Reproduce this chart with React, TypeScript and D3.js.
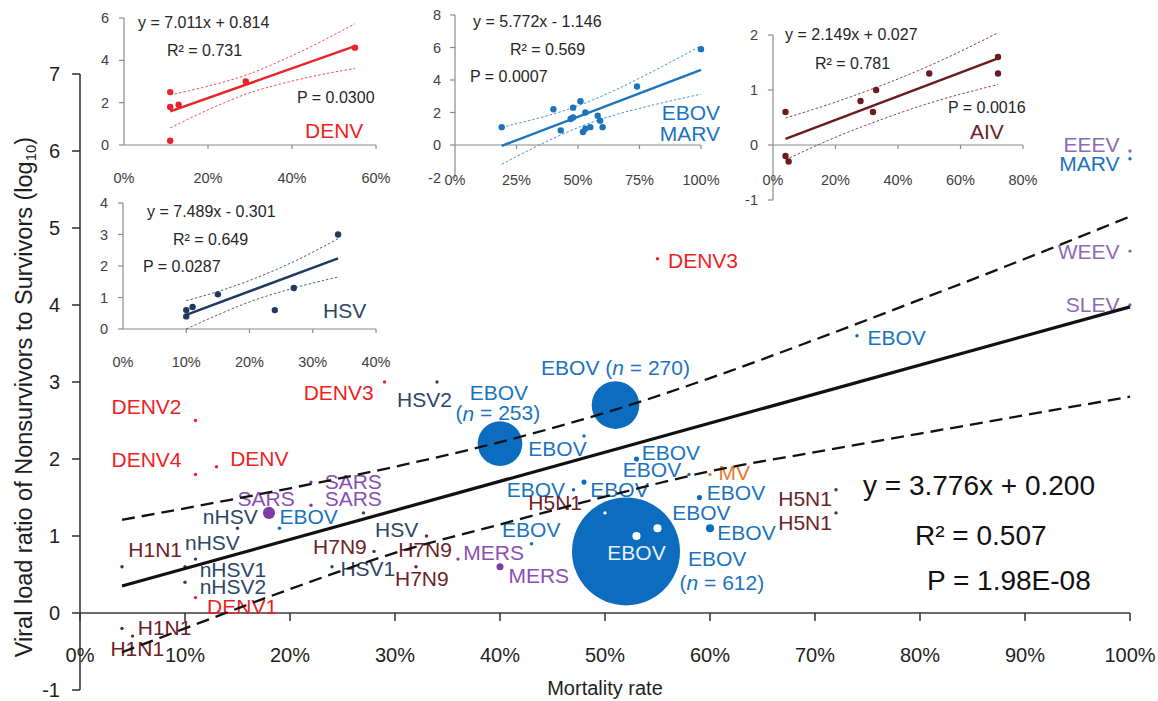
import React from "react";
import * as d3 from "d3";

const W = 1158;
const H = 701;
const FONT = "'Liberation Sans', Arial, sans-serif";

// ---------- main data: [mortality, log10 ratio] ----------
const denvPoints: [number, number][] = [[0.11, 2.5], [0.11, 1.8], [0.13, 1.9], [0.11, 0.2], [0.29, 3.0], [0.55, 4.6]];
const hsvPoints: [number, number][] = [[0.10, 0.6], [0.10, 0.4], [0.11, 0.7], [0.15, 1.1], [0.24, 0.6], [0.27, 1.3], [0.34, 3.0]];
const ebovPoints: [number, number][] = [[0.19, 1.1], [0.40, 2.2], [0.43, 0.9], [0.47, 1.6], [0.48, 1.7], [0.48, 2.3], [0.51, 2.7], [0.52, 0.8], [0.53, 2.0], [0.53, 1.0], [0.55, 1.1], [0.58, 1.8], [0.59, 1.5], [0.60, 1.1], [0.74, 3.6]];
const ebovN = [10, 253, 10, 10, 29, 10, 270, 612, 29, 46, 46, 10, 29, 46, 10];
const marvPoints: [number, number][] = [[1.0, 5.9]];
const aivPoints: [number, number][] = [[0.04, 0.6], [0.04, -0.2], [0.05, -0.3], [0.28, 0.8], [0.32, 0.6], [0.33, 1.0], [0.50, 1.3], [0.72, 1.6], [0.72, 1.3]];
const sarsPoints: [number, number][] = [[0.18, 1.3], [0.22, 1.7], [0.22, 1.4]];
const sarsN = [69, 10, 10];
const mersPoints: [number, number][] = [[0.36, 0.7], [0.40, 0.6]];
const mersN = [10, 40];
const mvPoints: [number, number][] = [[0.60, 1.8]];
const alphaPoints: [number, number][] = [[1.0, 6.0], [1.0, 4.7], [1.0, 4.0]]; // EEEV, WEEV, SLEV

// overall regression
const mainSlope = 3.776;
const mainIntercept = 0.2;
const bandX = [0.04, 0.1, 0.2, 0.3, 0.4, 0.5, 0.6, 0.7, 0.8, 0.9, 1.0];
const bandUpper = [1.21, 1.36, 1.62, 1.90, 2.22, 2.60, 3.05, 3.55, 4.07, 4.60, 5.15];
const bandLower = [-0.51, -0.20, 0.31, 0.78, 1.15, 1.51, 1.84, 2.09, 2.33, 2.57, 2.81];

const xTicks = [0, 0.1, 0.2, 0.3, 0.4, 0.5, 0.6, 0.7, 0.8, 0.9, 1.0];
const yTicks = [-1, 0, 1, 2, 3, 4, 5, 6, 7];

// inset bands
const denvBandX = [0.11, 0.2, 0.29, 0.4, 0.55];
const denvBandU = [2.37, 2.78, 3.30, 4.22, 5.73];
const denvBandL = [0.81, 1.66, 2.40, 3.02, 3.62];
const hsvBandX = [0.10, 0.15, 0.2, 0.27, 0.34];
const hsvBandU = [0.90, 1.19, 1.54, 2.14, 2.87];
const hsvBandL = [0.0, 0.45, 0.86, 1.30, 1.65];
const ebovBandX = [0.19, 0.3, 0.4, 0.52, 0.65, 0.8, 1.0];
const ebovBandU = [1.09, 1.50, 1.91, 2.53, 3.37, 4.50, 6.10];
const ebovBandL = [-1.19, -0.32, 0.41, 1.19, 1.85, 2.44, 3.13];
const aivBandX = [0.04, 0.2, 0.35, 0.5, 0.72];
const aivBandU = [0.49, 0.78, 1.09, 1.44, 2.04];
const aivBandL = [-0.27, 0.14, 0.47, 0.76, 1.10];

const COL = {
  denv: "#ee1f24",
  ebov: "#1b73bf",
  ebovBig: "#0b6cc0",
  hsv: "#2c4668",
  sars: "#7c3ea2",
  sarsLabel: "#8a4fb3",
  aiv: "#6c2226",
  mv: "#e8782e",
  alpha: "#8d6ab8",
  axis: "#3a3a3a",
};

type Lab = { t: string; c: string; x: number; y: number; a?: "start" | "middle" | "end"; n?: string };
const mainLabels: Lab[] = [
  { t: "H1N1", c: COL.aiv, x: 0.046, y: 0.82 },
  { t: "H1N1", c: COL.aiv, x: 0.055, y: -0.19 },
  { t: "H1N1", c: COL.aiv, x: 0.029, y: -0.46 },
  { t: "DENV2", c: COL.denv, x: 0.030, y: 2.68 },
  { t: "DENV4", c: COL.denv, x: 0.030, y: 1.99 },
  { t: "DENV", c: COL.denv, x: 0.143, y: 2.01 },
  { t: "DENV1", c: COL.denv, x: 0.121, y: 0.08 },
  { t: "DENV3", c: COL.denv, x: 0.213, y: 2.86 },
  { t: "DENV3", c: COL.denv, x: 0.56, y: 4.58 },
  { t: "SARS", c: COL.sarsLabel, x: 0.150, y: 1.49 },
  { t: "SARS", c: COL.sarsLabel, x: 0.233, y: 1.71 },
  { t: "SARS", c: COL.sarsLabel, x: 0.233, y: 1.49 },
  { t: "nHSV", c: COL.hsv, x: 0.117, y: 1.25 },
  { t: "EBOV", c: COL.ebov, x: 0.190, y: 1.25 },
  { t: "nHSV", c: COL.hsv, x: 0.100, y: 0.91 },
  { t: "nHSV1", c: COL.hsv, x: 0.114, y: 0.56 },
  { t: "nHSV2", c: COL.hsv, x: 0.114, y: 0.34 },
  { t: "HSV", c: COL.hsv, x: 0.281, y: 1.08 },
  { t: "H7N9", c: COL.aiv, x: 0.222, y: 0.86 },
  { t: "HSV1", c: COL.hsv, x: 0.248, y: 0.58 },
  { t: "H7N9", c: COL.aiv, x: 0.303, y: 0.83 },
  { t: "H7N9", c: COL.aiv, x: 0.300, y: 0.45 },
  { t: "MERS", c: COL.sarsLabel, x: 0.365, y: 0.78 },
  { t: "MERS", c: COL.sarsLabel, x: 0.408, y: 0.49 },
  { t: "HSV2", c: COL.hsv, x: 0.302, y: 2.77 },
  { t: "EBOV", c: COL.ebov, x: 0.399, y: 2.87, a: "middle" },
  { t: "", n: "253", c: COL.ebov, x: 0.398, y: 2.60, a: "middle" },
  { t: "EBOV ", n: "270", c: COL.ebov, x: 0.510, y: 3.19, a: "middle" },
  { t: "EBOV", c: COL.ebov, x: 0.427, y: 2.14 },
  { t: "EBOV", c: COL.ebov, x: 0.535, y: 2.08 },
  { t: "EBOV", c: COL.ebov, x: 0.517, y: 1.86 },
  { t: "EBOV", c: COL.ebov, x: 0.462, y: 1.60, a: "end" },
  { t: "EBOV", c: COL.ebov, x: 0.486, y: 1.60 },
  { t: "H5N1", c: COL.aiv, x: 0.427, y: 1.44 },
  { t: "EBOV", c: COL.ebov, x: 0.402, y: 1.08 },
  { t: "EBOV", c: "#e8f0fa", x: 0.53, y: 0.79, a: "middle" },
  { t: "EBOV", c: COL.ebov, x: 0.597, y: 1.57 },
  { t: "EBOV", c: COL.ebov, x: 0.564, y: 1.30 },
  { t: "EBOV", c: COL.ebov, x: 0.607, y: 1.04 },
  { t: "EBOV", c: COL.ebov, x: 0.579, y: 0.71 },
  { t: "", n: "612", c: COL.ebov, x: 0.571, y: 0.40 },
  { t: "MV", c: COL.mv, x: 0.608, y: 1.82 },
  { t: "EBOV", c: COL.ebov, x: 0.750, y: 3.58 },
  { t: "H5N1", c: COL.aiv, x: 0.665, y: 1.49 },
  { t: "H5N1", c: COL.aiv, x: 0.665, y: 1.18 },
  { t: "EEEV", c: COL.alpha, x: 0.990, y: 6.08, a: "end" },
  { t: "MARV", c: COL.ebov, x: 0.990, y: 5.84, a: "end" },
  { t: "WEEV", c: COL.alpha, x: 0.990, y: 4.69, a: "end" },
  { t: "SLEV", c: COL.alpha, x: 0.990, y: 4.01, a: "end" },
];

// ---------- scales ----------
const x = d3.scaleLinear().domain([0, 1]).range([80, 1130]);
const y = d3.scaleLinear().domain([-1, 7]).range([690, 74]);
const rScale = d3.scaleLinear().domain([0, 612]).range([0, 54]);
const radius = (n: number) => Math.max(1.7, rScale(n));

type Pt = { px: number; py: number; r: number; fill: string };

function buildMainPoints(): Pt[] {
  const out: Pt[] = [];
  const add = (pts: [number, number][], color: string, ns?: number[]) =>
    pts.forEach((p, i) => out.push({ px: x(p[0]), py: y(p[1]), r: radius(ns ? ns[i] : 10), fill: color }));
  add(denvPoints, COL.denv);
  add(hsvPoints, COL.hsv);
  add(ebovPoints, COL.ebovBig, ebovN);
  add(marvPoints, COL.ebov);
  add(aivPoints, COL.aiv);
  add(sarsPoints, COL.sars, sarsN);
  add(mersPoints, COL.sars, mersN);
  add(mvPoints, COL.mv);
  add(alphaPoints, COL.alpha);
  out.sort((a, b) => b.r - a.r);
  // points lying inside a larger bubble are drawn white
  const big = out.filter((p) => p.r > 15);
  out.forEach((p) => {
    if (p.r < 15 && big.some((b) => Math.hypot(b.px - p.px, b.py - p.py) < b.r - p.r)) p.fill = "#ffffff";
  });
  return out;
}

type InsetCfg = {
  xDom: [number, number];
  xPx: [number, number];
  yDom: [number, number];
  yPx: [number, number];
  xTicks: number[];
  yTicks: number[];
  xLabelY: number;
  yLabelX: number;
  points: [number, number][];
  color: string;
  slope: number;
  intercept: number;
  bx: number[];
  bu: number[];
  bl: number[];
  texts: { t: string; x: number; y: number; a?: "start" | "end"; size?: number; color?: string }[];
};

function Inset({ cfg }: { cfg: InsetCfg }) {
  const sx = d3.scaleLinear().domain(cfg.xDom).range(cfg.xPx);
  const sy = d3.scaleLinear().domain(cfg.yDom).range(cfg.yPx);
  const xe = d3.extent(cfg.points, (d) => d[0]) as [number, number];
  const line = d3.line<[number, number]>().x((d) => sx(d[0])).y((d) => sy(d[1]));
  const curve = d3.line<[number, number]>().x((d) => sx(d[0])).y((d) => sy(d[1])).curve(d3.curveMonotoneX);
  const reg: [number, number][] = xe.map((v) => [v, cfg.slope * v + cfg.intercept]) as [number, number][];
  const up = cfg.bx.map((v, i) => [v, cfg.bu[i]] as [number, number]);
  const lo = cfg.bx.map((v, i) => [v, cfg.bl[i]] as [number, number]);
  const fmt = d3.format(".0%");
  const axisCol = "#8a8a8a";
  const y0 = sy(0);
  return (
    <g fontFamily={FONT}>
      <line x1={sx(cfg.xDom[0])} x2={sx(cfg.xDom[1])} y1={y0} y2={y0} stroke={axisCol} strokeWidth={1.2} />
      <line x1={sx(cfg.xDom[0])} x2={sx(cfg.xDom[0])} y1={sy(cfg.yDom[0])} y2={sy(cfg.yDom[1])} stroke={axisCol} strokeWidth={1.2} />
      {cfg.xTicks.map((t) => (
        <g key={"xt" + t}>
          {t !== cfg.xDom[0] && <line x1={sx(t)} x2={sx(t)} y1={y0} y2={y0 + 4} stroke={axisCol} strokeWidth={1.2} />}
          <text x={sx(t)} y={cfg.xLabelY} textAnchor="middle" dominantBaseline="central" fontSize={14.5} fill="#404040">
            {fmt(t)}
          </text>
        </g>
      ))}
      {cfg.yTicks.map((t) => (
        <g key={"yt" + t}>
          <line x1={sx(cfg.xDom[0]) - 5} x2={sx(cfg.xDom[0])} y1={sy(t)} y2={sy(t)} stroke={axisCol} strokeWidth={1.2} />
          <text x={cfg.yLabelX} y={sy(t)} textAnchor="end" dominantBaseline="central" fontSize={14.5} fill="#404040">
            {t}
          </text>
        </g>
      ))}
      <path d={curve(up) || ""} fill="none" stroke={cfg.color} strokeWidth={1} strokeDasharray="2.5 2" opacity={0.8} />
      <path d={curve(lo) || ""} fill="none" stroke={cfg.color} strokeWidth={1} strokeDasharray="2.5 2" opacity={0.8} />
      <path d={line(reg) || ""} fill="none" stroke={cfg.color} strokeWidth={2.4} />
      {cfg.points.map((p, i) => (
        <circle key={"p" + i} cx={sx(p[0])} cy={sy(p[1])} r={3.2} fill={cfg.color} />
      ))}
      {cfg.texts.map((t, i) => (
        <text
          key={"t" + i}
          x={t.x}
          y={t.y}
          textAnchor={t.a || "start"}
          dominantBaseline="central"
          fontSize={t.size || 16}
          fill={t.color || "#262626"}
        >
          {t.t}
        </text>
      ))}
    </g>
  );
}

const denvInset: InsetCfg = {
  xDom: [0, 0.6], xPx: [124, 376], yDom: [0, 6], yPx: [145, 18],
  xTicks: [0, 0.2, 0.4, 0.6], yTicks: [0, 2, 4, 6], xLabelY: 178, yLabelX: 109,
  points: denvPoints, color: "#e8232a", slope: 7.011, intercept: 0.814,
  bx: denvBandX, bu: denvBandU, bl: denvBandL,
  texts: [
    { t: "y = 7.011x + 0.814", x: 138, y: 22 },
    { t: "R² = 0.731", x: 167, y: 50 },
    { t: "P = 0.0300", x: 297, y: 97 },
    { t: "DENV", x: 305, y: 130, size: 21, color: "#ee1f24" },
  ],
};
const hsvInset: InsetCfg = {
  xDom: [0, 0.4], xPx: [123, 376], yDom: [0, 4], yPx: [329, 203],
  xTicks: [0, 0.1, 0.2, 0.3, 0.4], yTicks: [0, 1, 2, 3, 4], xLabelY: 362, yLabelX: 108,
  points: hsvPoints, color: "#1f3a60", slope: 7.489, intercept: -0.301,
  bx: hsvBandX, bu: hsvBandU, bl: hsvBandL,
  texts: [
    { t: "y = 7.489x - 0.301", x: 147, y: 211 },
    { t: "R² = 0.649", x: 173, y: 239 },
    { t: "P = 0.0287", x: 143, y: 266 },
    { t: "HSV", x: 323, y: 310, size: 21, color: COL.hsv },
  ],
};
const ebovInset: InsetCfg = {
  xDom: [0, 1], xPx: [455, 701], yDom: [-2, 8], yPx: [177.5, 15],
  xTicks: [0, 0.25, 0.5, 0.75, 1], yTicks: [-2, 0, 2, 4, 6, 8], xLabelY: 180, yLabelX: 441,
  points: [...ebovPoints, ...marvPoints], color: "#1b75bc", slope: 5.772, intercept: -1.146,
  bx: ebovBandX, bu: ebovBandU, bl: ebovBandL,
  texts: [
    { t: "y = 5.772x - 1.146", x: 473, y: 21 },
    { t: "R² = 0.569", x: 510, y: 49 },
    { t: "P = 0.0007", x: 470, y: 76 },
    { t: "EBOV", x: 720, y: 112, a: "end", size: 21, color: COL.ebov },
    { t: "MARV", x: 720, y: 133, a: "end", size: 21, color: COL.ebov },
  ],
};
const aivInset: InsetCfg = {
  xDom: [0, 0.8], xPx: [773, 1023], yDom: [-1, 2], yPx: [200, 35],
  xTicks: [0, 0.2, 0.4, 0.6, 0.8], yTicks: [-1, 0, 1, 2], xLabelY: 180, yLabelX: 758,
  points: aivPoints, color: "#6b1a1e", slope: 2.149, intercept: 0.027,
  bx: aivBandX, bu: aivBandU, bl: aivBandL,
  texts: [
    { t: "y = 2.149x + 0.027", x: 785, y: 34 },
    { t: "R² = 0.781", x: 815, y: 63 },
    { t: "P = 0.0016", x: 948, y: 107 },
    { t: "AIV", x: 970, y: 131, size: 21, color: COL.aiv },
  ],
};

export default function App() {
  const pts = buildMainPoints();
  const allX = [denvPoints, hsvPoints, ebovPoints, marvPoints, aivPoints, sarsPoints, mersPoints, mvPoints, alphaPoints].flat().map((d) => d[0]);
  const xe = d3.extent(allX) as [number, number];
  const line = d3.line<[number, number]>().x((d) => x(d[0])).y((d) => y(d[1]));
  const curve = d3.line<[number, number]>().x((d) => x(d[0])).y((d) => y(d[1])).curve(d3.curveMonotoneX);
  const reg = xe.map((v) => [v, mainSlope * v + mainIntercept]) as [number, number][];
  const up = bandX.map((v, i) => [v, bandUpper[i]] as [number, number]);
  const lo = bandX.map((v, i) => [v, bandLower[i]] as [number, number]);
  const pctFmt = d3.format(".0%");
  const y0 = y(0);

  return (
    <svg width={W} height={H} style={{ position: "absolute", left: 0, top: 0, background: "#fff" }} fontFamily={FONT}>
      <rect width={W} height={H} fill="#fff" />
      {/* main axes */}
      <line x1={x(0)} x2={x(0)} y1={y(-1)} y2={y(7)} stroke={COL.axis} strokeWidth={1.6} />
      {yTicks.map((t) => (
        <g key={"my" + t}>
          <line x1={x(0) - 8} x2={x(0)} y1={y(t)} y2={y(t)} stroke={COL.axis} strokeWidth={1.6} />
          <text x={60} y={y(t)} textAnchor="end" dominantBaseline="central" fontSize={20} fill="#1e1e1e">
            {t}
          </text>
        </g>
      ))}
      <line x1={x(0)} x2={x(1)} y1={y0} y2={y0} stroke={COL.axis} strokeWidth={1.6} />
      {xTicks.map((t) => (
        <g key={"mx" + t}>
          <line x1={x(t)} x2={x(t)} y1={y0} y2={y0 + 8} stroke={COL.axis} strokeWidth={1.6} />
          <text x={x(t)} y={655} textAnchor="middle" dominantBaseline="central" fontSize={20} fill="#1e1e1e">
            {pctFmt(t)}
          </text>
        </g>
      ))}
      <text x={605} y={688} textAnchor="middle" dominantBaseline="central" fontSize={20} fill="#1e1e1e">
        Mortality rate
      </text>
      <text transform="translate(24,397) rotate(-90)" textAnchor="middle" dominantBaseline="central" fontSize={23.5} fill="#1e1e1e">
        Viral load ratio of Nonsurvivors to Survivors (log
        <tspan fontSize={15} dy={6}>10</tspan>
        <tspan dy={-6}>)</tspan>
      </text>

      {/* insets */}
      <Inset cfg={denvInset} />
      <Inset cfg={hsvInset} />
      <Inset cfg={ebovInset} />
      <Inset cfg={aivInset} />

      {/* points */}
      {pts.map((p, i) => (
        <circle key={"mp" + i} cx={p.px} cy={p.py} r={p.r} fill={p.fill} />
      ))}

      {/* labels */}
      {mainLabels.map((l, i) => (
        <text key={"ml" + i} x={x(l.x)} y={y(l.y)} textAnchor={l.a || "start"} dominantBaseline="central" fontSize={21} fill={l.c}>
          {l.t}
          {l.n && (
            <>
              (<tspan fontStyle="italic">n</tspan> = {l.n})
            </>
          )}
        </text>
      ))}

      {/* regression and bands */}
      <path d={curve(up) || ""} fill="none" stroke="#111" strokeWidth={2.3} strokeDasharray="13 7" />
      <path d={curve(lo) || ""} fill="none" stroke="#111" strokeWidth={2.3} strokeDasharray="13 7" />
      <path d={line(reg) || ""} fill="none" stroke="#111" strokeWidth={3.2} />

      {/* stats */}
      <text x={863} y={485} dominantBaseline="central" fontSize={28} fill="#111">y = 3.776x + 0.200</text>
      <text x={915} y={535} dominantBaseline="central" fontSize={28} fill="#111">R² = 0.507</text>
      <text x={927} y={580} dominantBaseline="central" fontSize={28} fill="#111">P = 1.98E-08</text>
    </svg>
  );
}
